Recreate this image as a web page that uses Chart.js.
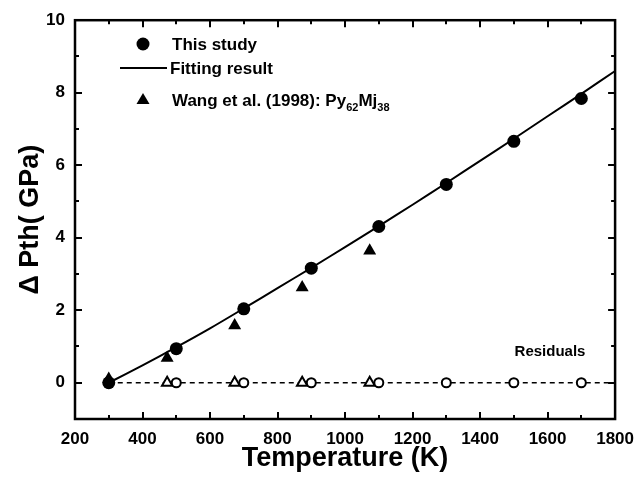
<!DOCTYPE html>
<html>
<head>
<meta charset="utf-8">
<script src="https://cdn.jsdelivr.net/npm/chart.js@4.4.1/dist/chart.umd.min.js"></script>
<style>
  html, body { margin: 0; padding: 0; background: #fff; }
  #wrap { width: 644px; height: 481px; }
</style>
</head>
<body>
<div id="wrap"><canvas id="chart" width="644" height="481"></canvas></div>
<script>
// measured data (this study)
const studyTemps = [300, 500, 700, 900, 1100, 1300, 1500, 1700];
const studyPth = [0, 0.94, 2.04, 3.16, 4.31, 5.47, 6.66, 7.84];
const studyResid = [0, 0, 0, 0, 0, 0, 0, 0];

// fitted curve
const fitTemps = [300, 400, 500, 600, 700, 800, 900, 1000, 1100, 1200, 1300, 1400, 1500, 1600, 1700, 1800];
const fitPth = [0, 0.48, 0.98, 1.50, 2.05, 2.61, 3.17, 3.74, 4.32, 4.91, 5.51, 6.12, 6.73, 7.35, 7.97, 8.60];

// Wang et al. (1998)
const wangTemps = [300, 473, 673, 873, 1073];
const wangPth = [0.10, 0.68, 1.58, 2.63, 3.64];
const wangResidTemps = [473, 673, 873, 1073];
const wangResid = [0, 0, 0, 0];

const zeroLine = [300, 1800];

const xTicks = [200, 400, 600, 800, 1000, 1200, 1400, 1600, 1800];
const yTicks = [0, 2, 4, 6, 8, 10];

const FONT = '"Liberation Sans", Arial, sans-serif';

function pts(xs, ys) {
    return xs.map((x, i) => ({ x: x, y: ys[i] }));
}

const framePlugin = {
    id: 'frame',
    afterDatasetsDraw(chart) {
        const ctx = chart.ctx;
        const a = chart.chartArea;
        const x = chart.scales.x;
        const y = chart.scales.y;
        ctx.save();
        ctx.strokeStyle = '#000';
        ctx.lineWidth = 2;
        ctx.beginPath();
        for (let v = 300; v < 1800; v += 100) {
            const px = Math.round(x.getPixelForValue(v));
            const len = v % 200 === 0 ? 7 : 4;
            ctx.moveTo(px, a.bottom);
            ctx.lineTo(px, a.bottom - len);
            ctx.moveTo(px, a.top);
            ctx.lineTo(px, a.top + len);
        }
        for (let v = 0; v < 10; v += 1) {
            const py = Math.round(y.getPixelForValue(v));
            const len = v % 2 === 0 ? 7 : 4;
            ctx.moveTo(a.left, py);
            ctx.lineTo(a.left + len, py);
            ctx.moveTo(a.right, py);
            ctx.lineTo(a.right - len, py);
        }
        ctx.stroke();

        ctx.lineWidth = 2.5;
        ctx.strokeRect(a.left, a.top, a.right - a.left, a.bottom - a.top);

        // legend
        ctx.fillStyle = '#000';
        ctx.beginPath();
        ctx.arc(143, 44, 6.5, 0, Math.PI * 2);
        ctx.fill();

        ctx.lineWidth = 2;
        ctx.beginPath();
        ctx.moveTo(120, 68);
        ctx.lineTo(167, 68);
        ctx.stroke();

        ctx.beginPath();
        ctx.moveTo(143, 93);
        ctx.lineTo(149.5, 104);
        ctx.lineTo(136.5, 104);
        ctx.closePath();
        ctx.fill();

        ctx.font = 'bold 17px ' + FONT;
        ctx.textBaseline = 'alphabetic';
        ctx.textAlign = 'left';
        ctx.fillText('This study', 172, 50);
        ctx.fillText('Fitting result', 170, 74);
        let tx = 172;
        const parts = [['Wang et al. (1998): Py', 17, 106], ['62', 11, 111], ['Mj', 17, 106], ['38', 11, 111]];
        parts.forEach(p => {
            ctx.font = 'bold ' + p[1] + 'px ' + FONT;
            ctx.fillText(p[0], tx, p[2]);
            tx += ctx.measureText(p[0]).width;
        });

        ctx.font = 'bold 15px ' + FONT;
        ctx.textAlign = 'center';
        ctx.textBaseline = 'middle';
        ctx.fillText('Residuals', 550, 352);
        ctx.restore();
    }
};

new Chart(document.getElementById('chart').getContext('2d'), {
    type: 'scatter',
    data: {
        datasets: [
            {
                label: 'This study',
                data: pts(studyTemps, studyPth),
                pointStyle: 'circle',
                pointRadius: 6.5,
                backgroundColor: '#000',
                borderColor: '#000',
                borderWidth: 0
            },
            {
                label: 'Wang et al. (1998)',
                data: pts(wangTemps, wangPth),
                pointStyle: 'triangle',
                pointRadius: 7.5,
                backgroundColor: '#000',
                borderColor: '#000',
                borderWidth: 0
            },
            {
                label: 'Residuals (this study)',
                data: pts(studyTemps, studyResid),
                pointStyle: 'circle',
                pointRadius: 4.5,
                backgroundColor: '#fff',
                borderColor: '#000',
                borderWidth: 2
            },
            {
                label: 'Residuals (Wang)',
                data: pts(wangResidTemps, wangResid),
                pointStyle: 'triangle',
                pointRadius: 6,
                backgroundColor: '#fff',
                borderColor: '#000',
                borderWidth: 2
            },
            {
                label: 'Fitting result',
                data: pts(fitTemps, fitPth),
                showLine: true,
                borderColor: '#000',
                borderWidth: 2,
                pointRadius: 0,
                tension: 0.3
            },
            {
                label: 'zero',
                data: pts(zeroLine, [0, 0]),
                showLine: true,
                borderColor: '#000',
                borderWidth: 1.5,
                borderDash: [5, 4],
                pointRadius: 0
            }
        ]
    },
    options: {
        responsive: false,
        animation: false,
        events: [],
        layout: { padding: { top: 18, right: 28, left: 0, bottom: 0 } },
        plugins: {
            legend: { display: false },
            tooltip: { enabled: false }
        },
        scales: {
            x: {
                type: 'linear',
                min: 200,
                max: 1800,
                grid: { display: false, drawTicks: false },
                border: { display: false },
                afterBuildTicks: s => { s.ticks = xTicks.map(v => ({ value: v })); },
                afterFit: s => { s.height = 62; },
                ticks: {
                    padding: 10,
                    color: '#000',
                    maxRotation: 0,
                    autoSkip: false,
                    callback: v => String(v),
                    font: { family: FONT, size: 17, weight: 'bold' }
                },
                title: {
                    display: true,
                    text: 'Temperature (K)',
                    color: '#000',
                    font: { family: FONT, size: 27, weight: 'bold' },
                    padding: { top: 0, bottom: 6 }
                }
            },
            y: {
                type: 'linear',
                min: -1,
                max: 10,
                grid: { display: false, drawTicks: false },
                border: { display: false },
                afterBuildTicks: s => { s.ticks = yTicks.map(v => ({ value: v })); },
                afterFit: s => { s.width = 75; },
                ticks: {
                    padding: 10,
                    color: '#000',
                    autoSkip: false,
                    callback: v => String(v),
                    font: { family: FONT, size: 17, weight: 'bold' }
                },
                title: {
                    display: true,
                    text: '\u0394 Pth( GPa)',
                    color: '#000',
                    font: { family: FONT, size: 27, weight: 'bold' },
                    padding: { top: 14, bottom: 0 }
                }
            }
        }
    },
    plugins: [framePlugin]
});
</script>
</body>
</html>
